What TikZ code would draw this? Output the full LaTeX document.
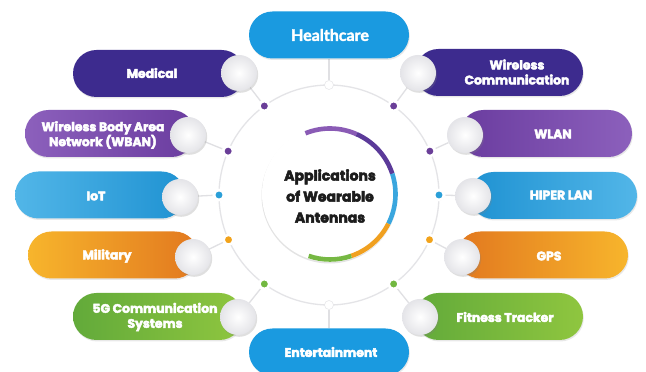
\documentclass[tikz,border=0pt]{standalone}
\usepackage{fontspec}
\setmainfont{Poppins}
\newfontfamily\pillfont{Poppins}[FakeBold=3.5]
\newfontfamily\headfont{Lato}[FakeBold=2]
\usetikzlibrary{shapes.misc,shadows}

\definecolor{ringgray}{HTML}{E4E4E7}
\definecolor{linegray}{HTML}{E0E0E3}
\definecolor{knobedge}{HTML}{E4E4E8}
\definecolor{indigo}{HTML}{3D2B8E}
\definecolor{violetL}{HTML}{8C60BC}
\definecolor{violetD}{HTML}{6A3C9F}
\definecolor{skyL}{HTML}{52B6E8}
\definecolor{skyD}{HTML}{1F92D2}
\definecolor{amberL}{HTML}{F7B52C}
\definecolor{amberD}{HTML}{E2781F}
\definecolor{leafL}{HTML}{8FC63F}
\definecolor{leafD}{HTML}{62AA3A}
\definecolor{headblue}{HTML}{1A9AE0}
\definecolor{dotpurple}{HTML}{6A3E98}
\definecolor{dotblue}{HTML}{2A9FD8}
\definecolor{dotorange}{HTML}{F2A31B}
\definecolor{dotgreen}{HTML}{72B840}
\definecolor{arcpurpleL}{HTML}{8A5BB5}
\definecolor{arcpurpleD}{HTML}{5B3A99}
\definecolor{arcblue}{HTML}{3AA6DE}
\definecolor{arcorange}{HTML}{F0A020}
\definecolor{arcgreen}{HTML}{76B843}
\definecolor{inktext}{HTML}{1C1C1C}

\pgfdeclarelayer{paper}
\pgfdeclarelayer{bg}
\pgfsetlayers{paper,bg,main}

\begin{document}
\begin{tikzpicture}[x=1pt,y=1pt,
  pill/.style={rounded rectangle, minimum height=47pt, inner sep=0pt, draw=none,
    drop shadow={opacity=0.18, shadow xshift=0.8pt, shadow yshift=-1.5pt}},
  knob/.style={circle, minimum size=36pt, inner sep=0pt, draw=none,
    inner color=white, outer color=knobedge,
    drop shadow={opacity=0.25, shadow xshift=1.2pt, shadow yshift=-1.8pt}},
  pilltext/.style={text=white, align=center,
    font=\pillfont\bfseries\fontsize{12.4}{15}\selectfont},
  dot/.style={circle, minimum size=10pt, inner sep=0pt, draw=white, line width=2.6pt,
    drop shadow={opacity=0.22, shadow xshift=0.5pt, shadow yshift=-0.8pt}},
  hub/.style={circle, minimum size=9pt, inner sep=0pt, fill=white, draw=ringgray, line width=0.5pt},
  ring/.style={draw=ringgray, line width=1.3pt},
  link/.style={draw=linegray, line width=1.3pt},
  arcseg/.style={line width=4.6pt}
]
\useasboundingbox (0,0) rectangle (646,372);
\begin{pgfonlayer}{paper}
  \fill[white] (0,0) rectangle (646,372);
\end{pgfonlayer}

\coordinate (rc) at (329,177);
\coordinate (cc) at (330,178);

% top and bottom category pills
\node[pill, minimum width=160pt, fill=headblue] (health) at (329,337) {};
\node[text=white, font=\headfont\bfseries\fontsize{16}{18}\selectfont] (health-t) at (330,337) {Healthcare};
\node[pill, minimum width=160pt, fill=headblue] (enter) at (329,20) {};
\node[pilltext] (enter-t) at (331,20) {Entertainment};

% left pills
\node[pill, minimum width=172pt, fill=indigo] (p1) at (159,298.5) {};
\node[pill, minimum width=170pt, left color=violetL, right color=violetD] (p2) at (110,238.5) {};
\node[pill, minimum width=170pt, left color=skyL, right color=skyD] (p3) at (100,177) {};
\node[pill, minimum width=170pt, left color=amberL, right color=amberD] (p4) at (113,117) {};
\node[pill, minimum width=170pt, left color=leafD, right color=leafL] (p5) at (158,55.5) {};

% right pills
\node[pill, minimum width=168pt, fill=indigo] (q1) at (499,299.5) {};
\node[pill, minimum width=172pt, left color=violetD, right color=violetL] (q2) at (546,238.5) {};
\node[pill, minimum width=167pt, left color=skyD, right color=skyL] (q3) at (553.5,176.5) {};
\node[pill, minimum width=171pt, left color=amberD, right color=amberL] (q4) at (542.5,117) {};
\node[pill, minimum width=168pt, left color=leafD, right color=leafL] (q5) at (499,55.5) {};

% knobs at the inner ends of the pills
\node[knob] (k1) at (239,299) {};
\node[knob] (k2) at (188,237) {};
\node[knob] (k3) at (180,175) {};
\node[knob] (k4) at (193,115) {};
\node[knob] (k5) at (238,55) {};
\node[knob] (m1) at (418,299) {};
\node[knob] (m2) at (465,237) {};
\node[knob] (m3) at (473,176) {};
\node[knob] (m4) at (462,115) {};
\node[knob] (m5) at (420,55) {};

% pill labels
\node[pilltext] (t1) at (152,299) {Medical};
\node[pilltext] (t2) at (103,237) {Wireless Body Area\\Network (WBAN)};
\node[pilltext] (t3) at (96,176) {IoT};
\node[pilltext] (t4) at (107,116) {Military};
\node[pilltext] (t5) at (155,55) {5G Communication\\Systems};
\node[pilltext] (u1) at (517,300) {Wireless\\Communication};
\node[pilltext] (u2) at (553,238) {WLAN};
\node[pilltext] (u3) at (561,177) {HIPER LAN};
\node[pilltext] (u4) at (549,116) {GPS};
\node[pilltext] (u5) at (505,55) {Fitness Tracker};

% dots on the ring
\node[dot, fill=dotpurple] (a1) at ([shift={(126:110)}]rc) {};
\node[dot, fill=dotpurple] (a2) at ([shift={(156.5:110)}]rc) {};
\node[dot, fill=dotblue]   (a3) at ([shift={(180:110)}]rc) {};
\node[dot, fill=dotorange] (a4) at ([shift={(204:110)}]rc) {};
\node[dot, fill=dotgreen]  (a5) at ([shift={(234:110)}]rc) {};
\node[dot, fill=dotpurple] (b1) at ([shift={(54:110)}]rc) {};
\node[dot, fill=dotpurple] (b2) at ([shift={(23.5:110)}]rc) {};
\node[dot, fill=dotblue]   (b3) at ([shift={(0:110)}]rc) {};
\node[dot, fill=dotorange] (b4) at ([shift={(-24:110)}]rc) {};
\node[dot, fill=dotgreen]  (b5) at ([shift={(-54:110)}]rc) {};
\node[hub] (htop) at ([shift={(90:110)}]rc) {};
\node[hub] (hbot) at ([shift={(-90:110)}]rc) {};

% central disc with its coloured arc
\node[circle, minimum size=136pt, inner sep=0pt, fill=white,
  drop shadow={opacity=0.22, shadow xshift=-0.5pt, shadow yshift=-1.5pt}] (core) at (cc) {};
\draw[arcseg, arcpurpleL] ([shift={(112:65.5)}]cc) arc[start angle=112, end angle=66, radius=65.5];
\draw[arcseg, arcpurpleD] ([shift={(66:65.5)}]cc) arc[start angle=66, end angle=18, radius=65.5];
\draw[arcseg, arcblue] ([shift={(18:65.5)}]cc) arc[start angle=18, end angle=-27, radius=65.5];
\draw[arcseg, arcorange] ([shift={(-27:65.5)}]cc) arc[start angle=-27, end angle=-71, radius=65.5];
\draw[arcseg, arcgreen] ([shift={(-71:65.5)}]cc) arc[start angle=-71, end angle=-109, radius=65.5];
\node[text=inktext, align=center,
  font=\pillfont\bfseries\fontsize{14}{21}\selectfont] (title) at (330,176)
  {Applications\\of Wearable\\Antennas};

% ring and connectors beneath the nodes
\begin{pgfonlayer}{bg}
  \draw[ring] (rc) circle[radius=110];
  \draw[link] (a1) -- (k1);
  \draw[link] (a2) -- (k2);
  \draw[link] (a3) -- (k3);
  \draw[link] (a4) -- (k4);
  \draw[link] (a5) -- (k5);
  \draw[link] (b1) -- (m1);
  \draw[link] (b2) -- (m2);
  \draw[link] (b3) -- (m3);
  \draw[link] (b4) -- (m4);
  \draw[link] (b5) -- (m5);
  \draw[link] (htop) -- (health);
  \draw[link] (hbot) -- (enter);
\end{pgfonlayer}
\end{tikzpicture}
\end{document}
